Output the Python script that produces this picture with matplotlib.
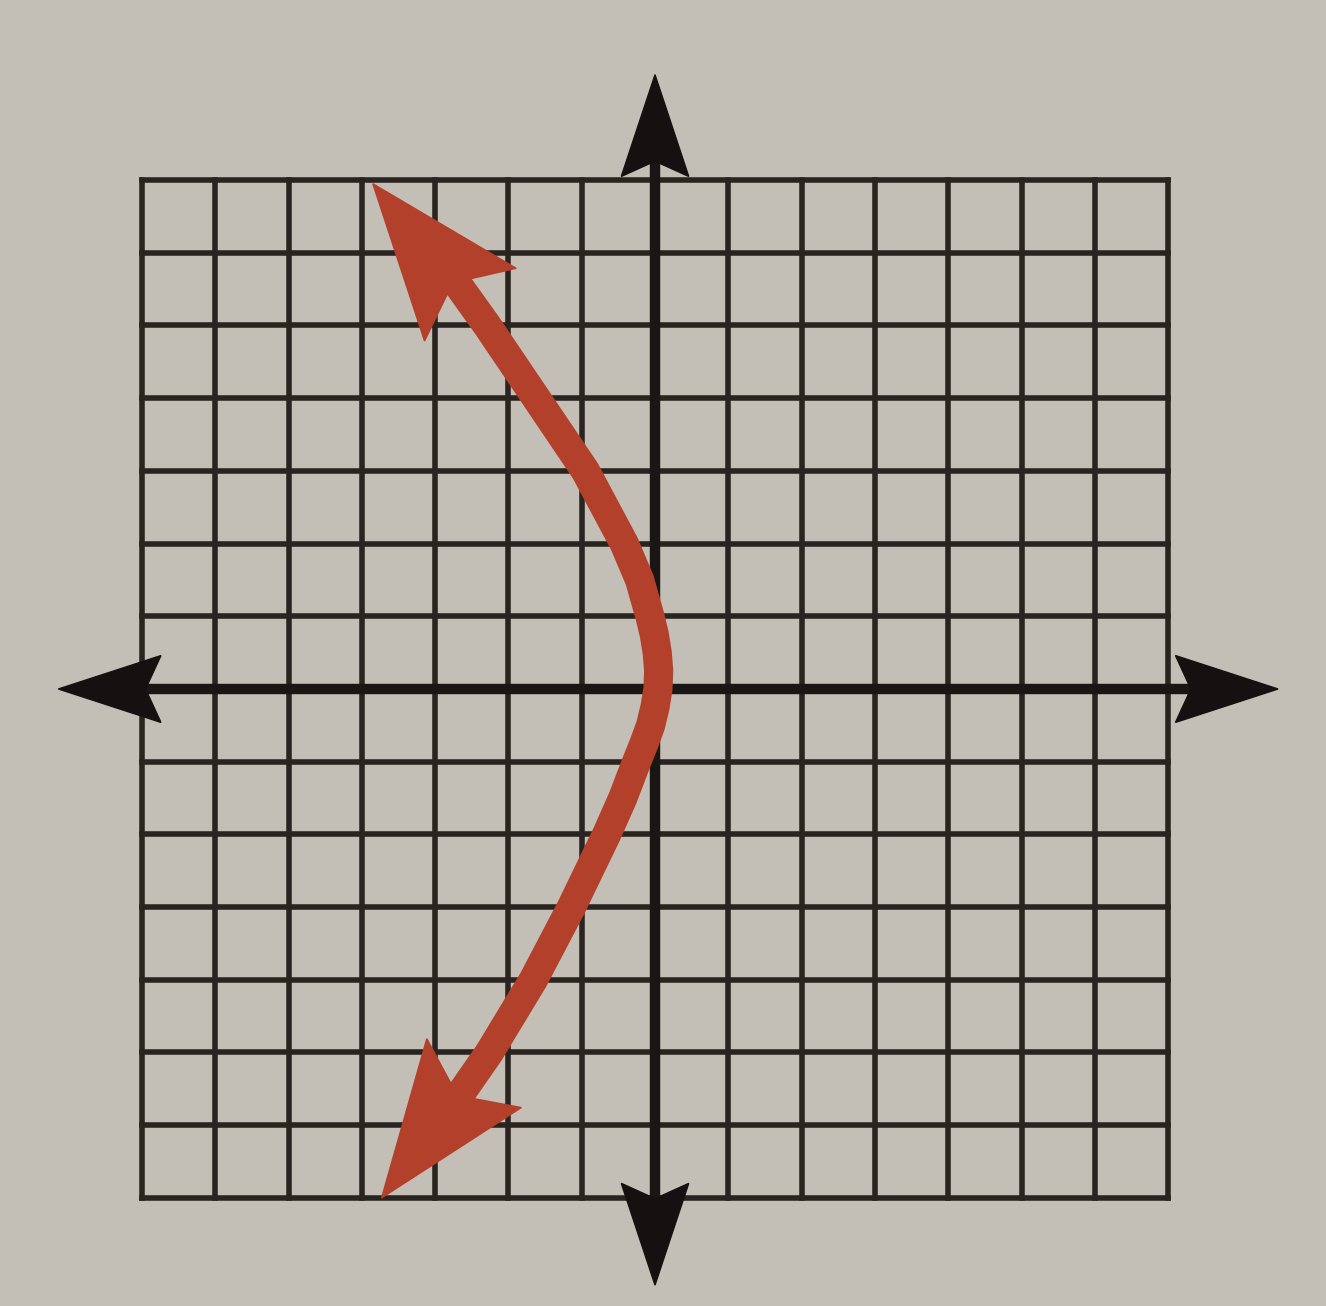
import numpy as np
import matplotlib
matplotlib.use("Agg")
import matplotlib.pyplot as plt
from matplotlib.patches import Polygon

# ---- data ----
grid_ticks = list(range(-7, 8))          # grid lines at every unit, -7..7
grid_min, grid_max = -7, 7

# x-axis and y-axis arrow tips (where the axes end)
x_axis_tips = [-8.14, 8.5]
y_axis_tips = [-8.2, 8.45]

# red curve: x read at each y
curve_y = [6.95, 6.0, 5.0, 4.0, 3.0, 2.0, 1.5, 1.0, 0.75, 0.5, 0.25, 0.0,
           -0.25, -0.5, -0.75, -1.0, -1.5, -2.0, -3.0, -4.0, -5.0, -6.0, -7.0]
curve_x = [-3.85, -3.0, -2.29, -1.62, -0.95, -0.42, -0.21, -0.07, -0.01, 0.03,
           0.05, 0.04, 0.0, -0.06, -0.15, -0.25, -0.44, -0.66, -1.14, -1.66,
           -2.26, -2.95, -3.73]

# ---- style ----
BG = "#c3bfb7"
INK = "#2a2420"
RED = "#b3402a"

fig = plt.figure(figsize=(13.26, 13.06), dpi=100, facecolor=BG)
ax = fig.add_axes([0, 0, 1, 1])
ax.set_facecolor(BG)
ax.set_xlim(-8.936, 9.154)
ax.set_ylim(-8.487, 9.477)
ax.axis("off")


def head(tip, toward, length, width, notch, color, z):
    tip = np.asarray(tip, float)
    d = tip - np.asarray(toward, float)
    d /= np.hypot(*d)
    n = np.array([-d[1], d[0]])
    base = tip - length * d
    p1 = base + width / 2 * n
    p2 = base - width / 2 * n
    pn = tip - notch * length * d
    ax.add_patch(Polygon([tip, p1, pn, p2], closed=True, facecolor=color,
                         edgecolor=color, lw=1, zorder=z))


# grid
for t in grid_ticks:
    if t == 0:
        continue
    ax.plot([t, t], [grid_min, grid_max], color=INK, lw=4.0, zorder=1,
            solid_capstyle="projecting")
    ax.plot([grid_min, grid_max], [t, t], color=INK, lw=4.0, zorder=1,
            solid_capstyle="projecting")

# axes with arrowheads
ax.plot([x_axis_tips[0] + 0.8, x_axis_tips[1] - 0.8], [0, 0], color="#1a1614",
        lw=7.5, zorder=2)
ax.plot([0, 0], [y_axis_tips[0] + 0.8, y_axis_tips[1] - 0.8], color="#1a1614",
        lw=7.5, zorder=2)
for tip, tow in [((x_axis_tips[0], 0), (0, 0)), ((x_axis_tips[1], 0), (0, 0)),
                 ((0, y_axis_tips[0]), (0, 0)), ((0, y_axis_tips[1]), (0, 0))]:
    head(tip, tow, 1.4, 0.92, 0.85, "#141110", 3)

# red curve
ax.plot(curve_x[1:-1], curve_y[1:-1], color=RED, lw=21, zorder=4,
        solid_capstyle="round", solid_joinstyle="round")
head((curve_x[0], curve_y[0]), (curve_x[2], curve_y[2]), 2.13, 1.6, 0.82, RED, 5)
head((curve_x[-1], curve_y[-1]), (curve_x[-3], curve_y[-3]), 2.13, 1.6, 0.82, RED, 5)

fig.savefig("out.png", dpi=100, facecolor=BG)
